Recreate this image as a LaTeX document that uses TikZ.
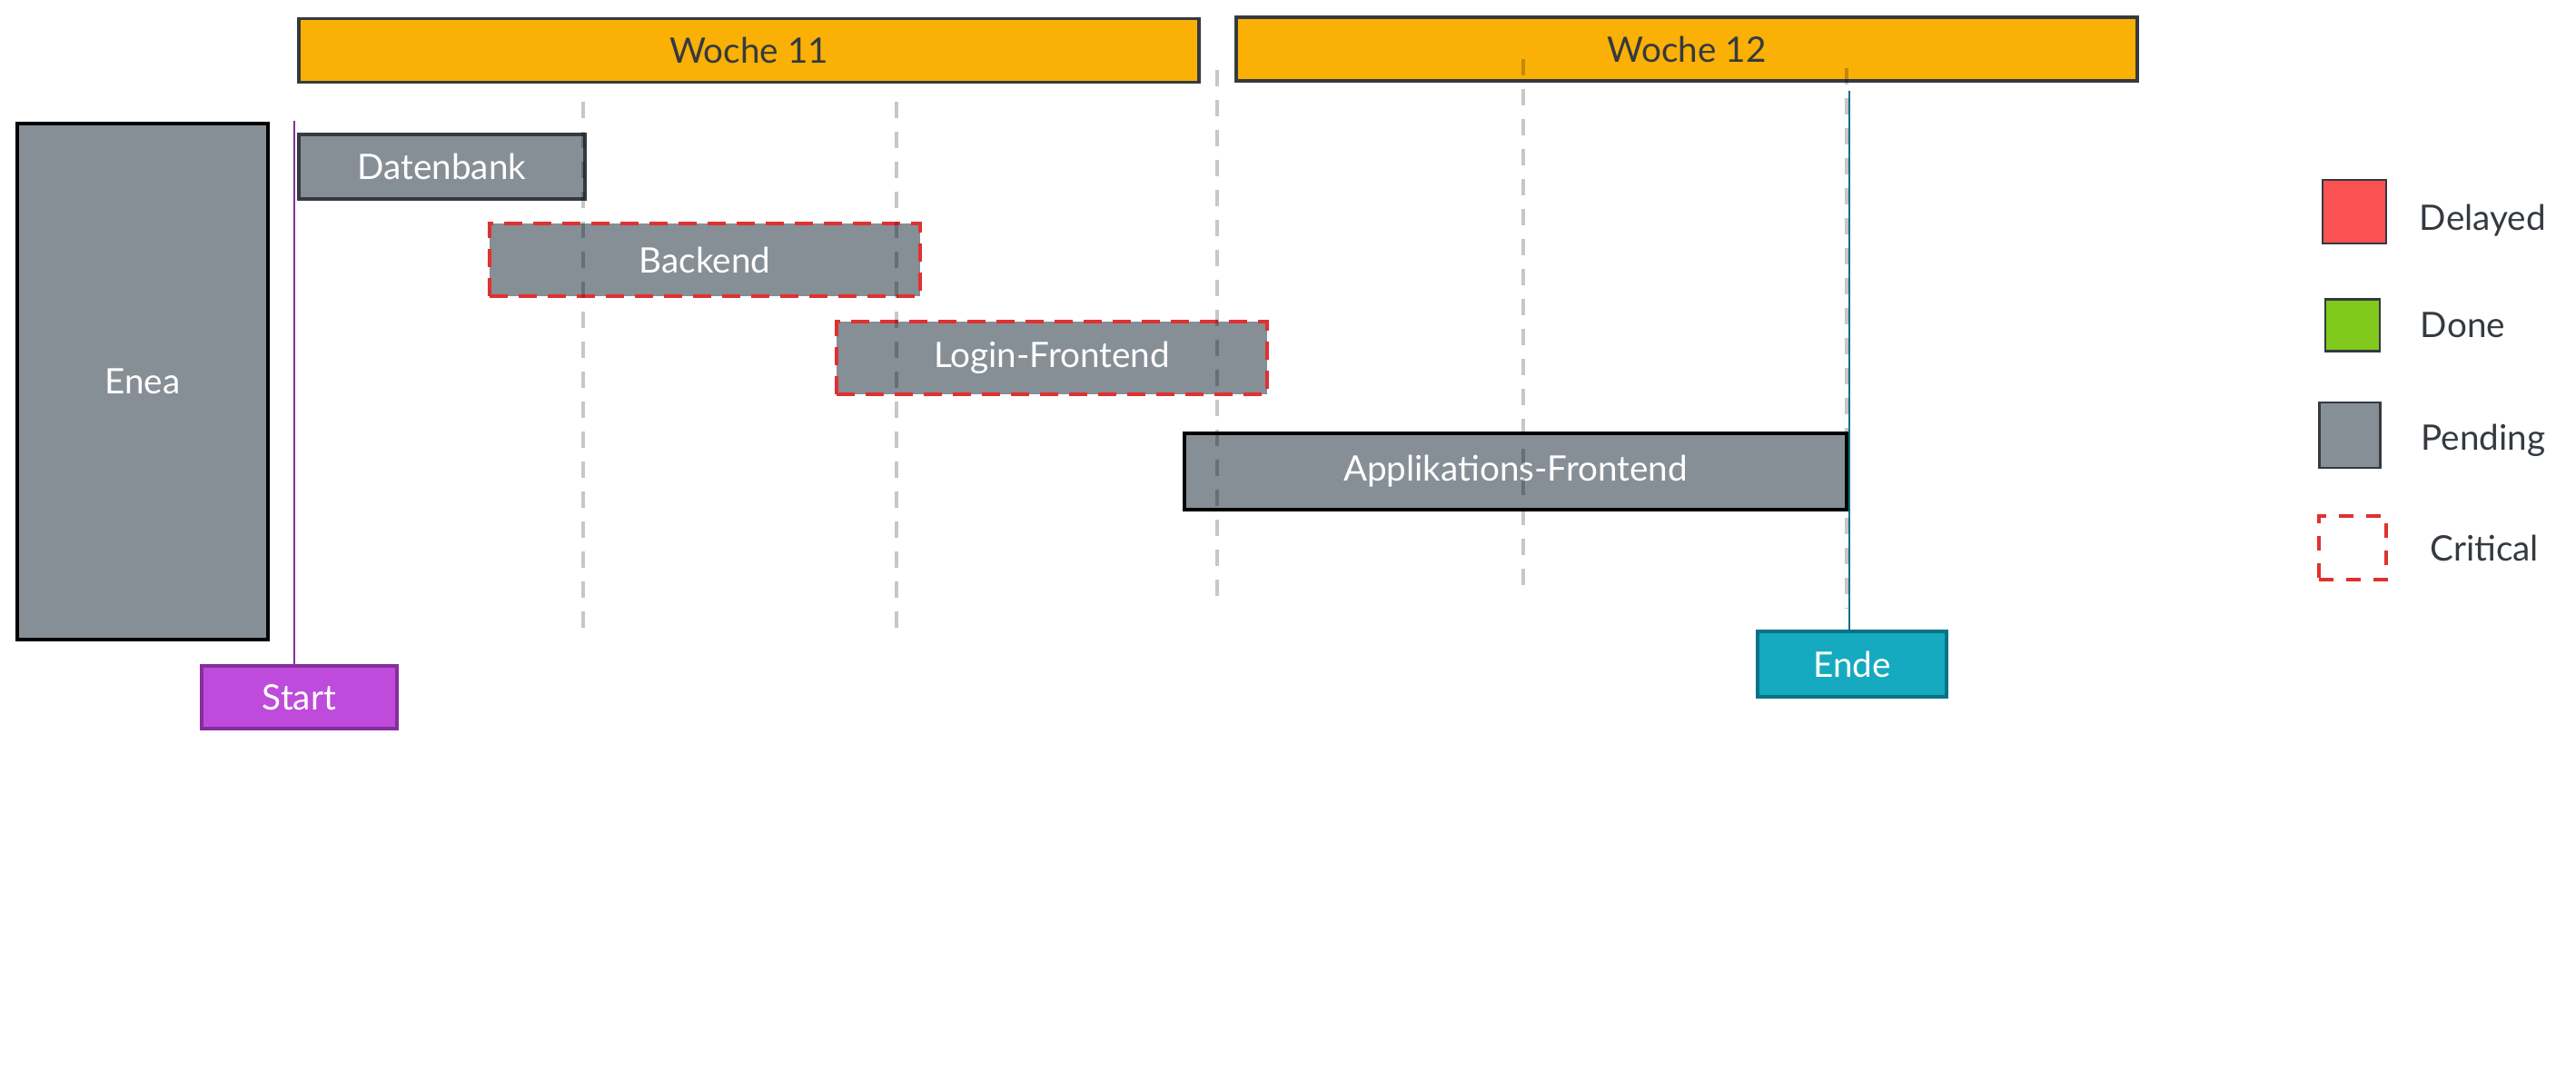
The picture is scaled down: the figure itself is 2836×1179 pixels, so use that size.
\documentclass[tikz,border=0pt]{standalone}
\usepackage{fontspec}
\setmainfont{Lato}
\usepackage{tikz}
\usetikzlibrary{positioning}

\definecolor{barYellow}{HTML}{FAB005}
\definecolor{taskGray}{HTML}{868E96}
\definecolor{strokeDark}{HTML}{343A40}
\definecolor{critRed}{HTML}{E03131}
\definecolor{startViolet}{HTML}{BE4BDB}
\definecolor{startStroke}{HTML}{862E9C}
\definecolor{endeCyan}{HTML}{15AABF}
\definecolor{endeStroke}{HTML}{0B7285}
\definecolor{delayedRed}{HTML}{FA5252}
\definecolor{doneGreen}{HTML}{82C91E}

\begin{document}
\begin{tikzpicture}[x=0.1mm, y=-0.1mm,
    every node/.style={font=\fontsize{11pt}{13pt}\selectfont, inner sep=0pt},
    weekbar/.style={rectangle, draw=strokeDark, line width=0.9pt, fill=barYellow, text=strokeDark, minimum height=7mm},
    taskbox/.style={rectangle, draw=strokeDark, line width=0.9pt, fill=taskGray, text=white},
    criticalbox/.style={taskbox, draw=critRed, dash pattern=on 2mm off 1.2mm, line width=1.1pt},
    milestone/.style={rectangle, line width=0.9pt, text=white},
    legendbox/.style={rectangle, draw=strokeDark, line width=0.7pt},
    legendlabel/.style={anchor=west, text=strokeDark},
    gridline/.style={draw=black, draw opacity=0.22, line width=0.9pt, dash pattern=on 1.8mm off 1.5mm},
    marker/.style={line width=0.6pt}
]
        \useasboundingbox (0,0) rectangle (2836,1179);

        % Weeks
        \node[weekbar, minimum width=99.1mm] (w11) at (824.5,55.5) {Woche 11};
        \node[weekbar, minimum width=99.2mm] (w12) at (1857,54) {Woche 12};

        % Tasks
        \node[taskbox, draw=black, minimum width=27.6mm, minimum height=56.8mm] (enea) at (157,420) {Enea};
        \node[taskbox, minimum width=31.5mm, minimum height=7.1mm] (datenbank) at (486.5,183.5) {Datenbank};
        \node[criticalbox, minimum width=47.4mm, minimum height=8mm] (backend) at (776,286) {Backend};
        \node[criticalbox, minimum width=47.4mm, minimum height=8mm] (login) at (1158,394) {Login-Frontend};
        \node[taskbox, draw=black, line width=1.2pt, minimum width=72.9mm, minimum height=8.4mm] (app) at (1668.5,519) {Applikations-Frontend};

        % Milestones
        \node[milestone, draw=startStroke, fill=startViolet, minimum width=21.5mm, minimum height=6.9mm] (start) at (329.5,767.5) {Start};
        \node[milestone, draw=endeStroke, fill=endeCyan, minimum width=20.8mm, minimum height=7.2mm] (ende) at (2039,731) {Ende};
        \coordinate (startTop) at (324,133);
        \coordinate (endeTop) at (2036,100);

        % Grid
        \foreach \gx/\gtop/\gbot in {642/112/703, 987/112/700, 1340/77/668, 1677/65/653, 2033/75/670}
            \draw[gridline] (\gx,\gtop) -- (\gx,\gbot);

        % Links
        \draw[marker, startStroke] (start.north -| startTop) -- (startTop);
        \draw[marker, endeStroke] (ende.north -| endeTop) -- (endeTop);

        % Legend
        \node[legendbox, fill=delayedRed, minimum width=7mm, minimum height=7mm] (delayed) at (2592,233) {};
        \node[legendbox, fill=doneGreen, minimum width=6mm, minimum height=5.7mm] (done) at (2590,358) {};
        \node[legendbox, fill=taskGray, minimum width=6.7mm, minimum height=7.2mm] (pending) at (2587,479) {};
        \node[legendbox, draw=critRed, line width=0.9pt, dash pattern=on 1.6mm off 1.4mm, minimum width=7.4mm, minimum height=7mm] (critical) at (2590,603) {};
        \node[legendlabel, right=3.5mm of delayed, yshift=-1mm] {Delayed};
        \node[legendlabel, right=4.3mm of done] {Done};
        \node[legendlabel, right=4.3mm of pending, yshift=-0.6mm] {Pending};
        \node[legendlabel, right=4.6mm of critical] {Critical};
    \end{tikzpicture}
\end{document}
